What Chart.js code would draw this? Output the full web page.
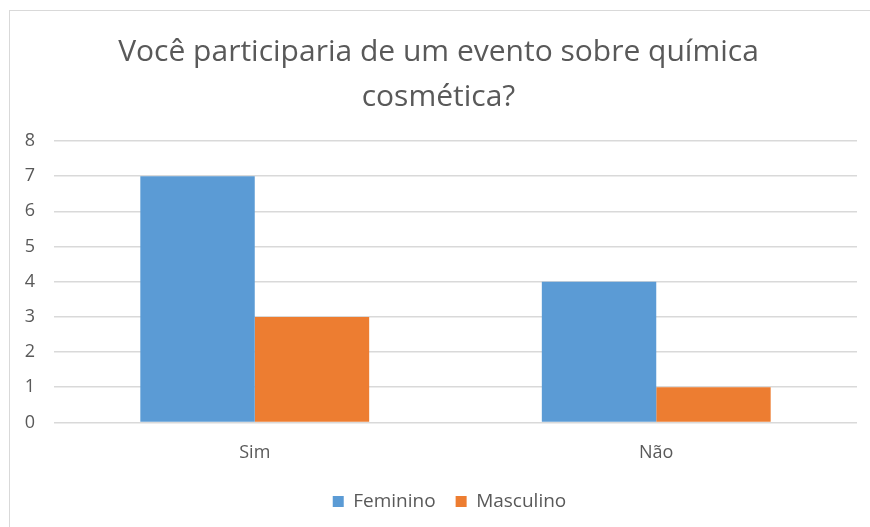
<!DOCTYPE html>
<html>
<head>
<meta charset="utf-8">
<script src="https://cdn.jsdelivr.net/npm/chart.js@4"></script>
<style>
  html,body{margin:0;padding:0;background:#fff;}
  .frame{position:absolute;left:9px;top:10px;width:900px;height:560px;border:1px solid #d9d9d9;box-sizing:border-box;}
  .wrap{position:absolute;left:0;top:0;width:870px;height:527px;}
</style>
</head>
<body>
<div class="frame"></div>
<div class="wrap"><canvas id="grafico" width="870" height="527"></canvas></div>
<script>
// dados do grafico
const categorias=['Sim','Não'];
const feminino=[7,4];
const masculino=[3,1];
const titulo=['Você participaria de um evento sobre química','cosmética?'];

Chart.defaults.font.family='"Open Sans"';
Chart.defaults.color='#595959';

// corre a legenda um pouco para a direita
const moverLegenda={
    id:'moverLegenda',
    afterLayout(chart){
        chart.legend.left+=11;
        chart.legend.right+=11;
    }
};

const can=document.getElementById('grafico');
const chart=new Chart(can,{
    type:'bar',
    data:{
        labels:categorias,
        datasets:[
            {label:'Feminino',data:feminino,backgroundColor:'#5b9bd5'},
            {label:'Masculino',data:masculino,backgroundColor:'#ed7d31'}
        ]
    },
    options:{
        responsive:false,
        animation:false,
        layout:{padding:{top:30,left:20,right:13,bottom:6}},
        datasets:{bar:{categoryPercentage:0.57,barPercentage:1}},
        plugins:{
            title:{
                display:true,
                text:titulo,
                font:{size:30,weight:'normal',lineHeight:1.5},
                padding:{top:0,bottom:21}
            },
            legend:{
                position:'bottom',
                labels:{boxWidth:11,boxHeight:11,font:{size:19},padding:20}
            },
            tooltip:{enabled:false}
        },
        scales:{
            x:{
                grid:{display:false},
                border:{display:false},
                ticks:{font:{size:18},padding:12},
                afterFit:(s)=>{s.height=s.height-4;}
            },
            y:{
                min:0,max:8,
                ticks:{stepSize:1,font:{size:18},padding:19},
                grid:{color:'#d9d9d9',lineWidth:1.5,drawTicks:false},
                border:{display:false},
                afterFit:(s)=>{s.width=34;}
            }
        }
    },
    plugins:[moverLegenda]
});
</script>
</body>
</html>
